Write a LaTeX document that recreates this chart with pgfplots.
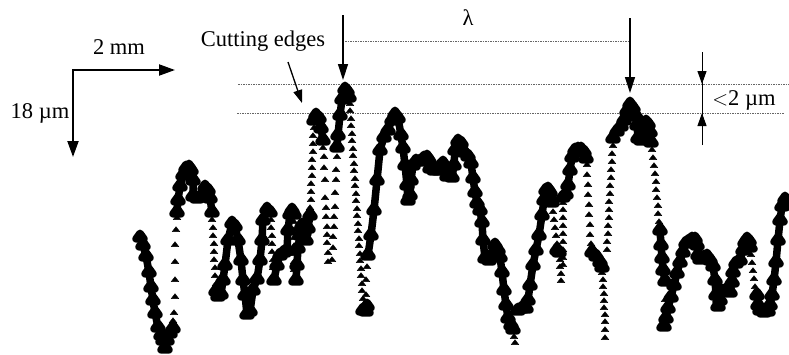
\documentclass[border=0pt]{standalone}
\usepackage{pgfplots}
\pgfplotsset{compat=1.18}
\usepackage{fontspec}
\setmainfont{Liberation Serif}
\usetikzlibrary{arrows.meta}
\begin{document}
\fontsize{22.5}{26}\selectfont
\begin{tikzpicture}
\begin{axis}[scale only axis, width=789pt, height=354pt,
  xmin=0, xmax=789, ymin=0, ymax=354, y dir=reverse, hide axis, clip=false,
  thk/.style={black, line width=7.5pt, line join=round, line cap=round, mark=triangle*, mark size=4.6pt, mark options={yscale=0.8}},
  spr/.style={black, only marks, mark=triangle*, mark size=4.4pt, mark options={yscale=0.75}}]
\coordinate (bl) at (axis cs:0,354);
\coordinate (tr) at (axis cs:789,0);
% thick segments
\addplot[thk] coordinates {(140,237) (143,245) (146,256) (149,272) (151,287) (153,300) (155,313) (158,327) (161,335) (163,340) (165,348) (167,340) (170,333) (173,328)};
\addplot[thk] coordinates {(177,212) (178,200) (180,186) (183,175) (186,168) (189,167) (191,170) (193,180) (193,196) (197,198) (201,197) (205,187) (208,190) (210,198) (212,212)};
\addplot[thk] coordinates {(216,291) (218,296) (221,294) (223,280) (225,265) (228,240) (232,223) (235,226) (238,240) (241,260) (243,280) (245,295) (247,314) (250,311) (253,290) (257,279) (260,260) (262,240) (263,220) (267,209) (270,212)};
\addplot[thk] coordinates {(274,280) (277,265) (280,255) (284,252) (287,250) (288,230) (290,214) (292,210) (294,214)};
\addplot[thk] coordinates {(296,280) (297,265) (298,248) (300,235) (302,225) (304,232) (306,240) (308,228) (310,215)};
\addplot[thk] coordinates {(314,120) (316,115) (319,118) (321,128) (323,140)};
\addplot[thk] coordinates {(337,147) (338,135) (340,115) (342,99) (345,89) (347,91) (349,97)};
\addplot[thk] coordinates {(363,310) (366,311) (367,306)};
\addplot[thk] coordinates {(368,255) (371,235) (374,210) (377,180) (380,150) (384,137) (388,130) (392,120) (395,114) (398,118) (401,135) (403,148) (405,165) (407,185) (408,200) (410,195) (411,180) (413,165) (416,161) (420,161) (424,158) (427,157) (429,160) (430,168) (434,170) (438,170) (441,165) (443,163) (445,170) (447,176) (452,177) (454,165) (455,150) (458,141) (461,143) (464,152) (468,156) (471,163) (473,178) (475,192) (477,203) (480,210) (482,222) (483,240) (485,258) (489,260) (492,255) (495,245) (498,250) (500,257) (502,272) (504,290) (506,305) (508,318) (511,325) (513,329)};
\addplot[thk] coordinates {(518,310) (522,308) (526,308) (528,300) (530,285) (533,265) (536,250) (539,235) (542,215) (544,200) (546,190) (548,189) (550,192) (552,202)};
\addplot[thk] coordinates {(557,250) (559,252)};
\addplot[thk] coordinates {(563,197) (566,194) (568,185) (570,170) (572,157) (575,150) (578,149) (581,149) (584,152) (586,158)};
\addplot[thk] coordinates {(592,252) (596,256) (600,262) (602,267)};
\addplot[thk] coordinates {(613,138) (617,131) (621,126) (624,120) (627,111) (630,104) (633,108) (636,116) (637,125) (638,138) (641,140) (643,135) (644,124) (646,122) (648,124) (650,132) (651,142)};
\addplot[thk] coordinates {(660,230) (661,245) (662,258) (663,270) (665,281)};
\addplot[thk] coordinates {(664,326) (666,318) (668,308) (671,297) (674,285) (677,273) (680,262) (683,252) (686,243) (689,241) (692,239) (695,239) (697,245) (698,255) (700,259) (704,257) (707,256) (710,260) (713,266) (715,280) (716,295) (718,306) (720,300) (722,291) (726,290) (730,292) (732,282) (733,272) (736,263) (740,260) (743,250) (745,242) (747,239) (749,241) (750,247)};
\addplot[thk] coordinates {(757,295) (758,305) (760,310) (764,312) (768,311) (770,305) (772,295) (774,280) (776,262) (778,240) (780,220) (782,206) (785,199) (789,205)};
% sparse columns of points
\addplot[spr] coordinates {(173,321) (174,313) (175,297) (175,280) (175,262) (175,245) (176,230) (177,218)
 (212,220) (213,228) (213,236) (214,244) (214,252) (214,260) (215,268) (215,276) (216,284)
 (271,220) (271,228) (272,236) (272,244) (272,252) (273,260) (273,268) (273,276)
 (294,222) (294,230) (294,238) (294,246) (294,254) (294,262) (294,270) (295,278)
 (310,208) (311,200) (311,192) (311,184) (312,176) (312,168) (312,160) (313,152) (313,144) (313,136) (314,128)
 (323,148) (324,157) (324,168) (325,180) (325,198) (326,208) (326,217) (327,227) (327,235) (327,243) (328,253) (328,262)
 (332,260) (333,248) (333,237) (334,227) (334,217) (335,207) (335,193) (336,180) (336,170) (337,157)
 (350,104) (350,111) (351,119) (351,126) (352,134) (352,141) (353,149) (353,156) (354,164) (354,171) (355,179) (355,186) (356,194) (356,201) (357,209) (357,216) (358,224) (358,231) (359,239) (359,246) (360,254) (360,261) (361,269) (361,276) (362,284) (362,291) (363,299) (363,306)
 (366,295) (366,280) (367,267)
 (514,337) (515,343)
 (553,212) (554,220) (555,228) (556,236) (557,244)
 (560,260) (560,267) (561,274) (561,281)
 (563,265) (563,258) (563,250) (563,242) (563,234) (563,226) (563,218) (563,210) (563,203)
 (587,165) (587,175) (588,185) (588,195) (589,205) (589,215) (590,225) (590,235) (591,244)
 (602,273) (603,280) (603,287) (604,294) (604,301) (604,308) (605,315) (605,322) (605,330) (605,338)
 (607,250) (607,242) (608,234) (608,226) (609,218) (609,210) (609,202) (610,194) (610,186) (611,178) (611,170) (612,162) (612,154) (613,146)
 (652,150) (653,158) (654,166) (655,174) (656,182) (656,190) (657,198) (658,206) (658,214) (659,222)
 (665,300) (665,315)
 (751,255) (752,263) (753,271) (754,279) (755,287)};
% annotations
\draw[line width=2pt, -{Triangle[length=16pt,width=11pt]}] (axis cs:73,70) -- (axis cs:175,70);
\draw[line width=2pt, -{Triangle[length=16pt,width=11pt]}] (axis cs:73,69) -- (axis cs:73,157);
\node at (axis cs:119,47) {2 mm};
\node at (axis cs:40,113) {18 µm};
\node at (axis cs:263,41) {Cutting edges};
\draw[line width=1.3pt, -{Triangle[length=13pt,width=9pt]}] (axis cs:288,62) -- (axis cs:302,103);
\draw[gray!80!black, line width=0.8pt, dash pattern=on 1.5pt off 1pt] (axis cs:238,84) -- (axis cs:789,84);
\draw[gray!80!black, line width=0.8pt, dash pattern=on 1.5pt off 1pt] (axis cs:237,113) -- (axis cs:784,113);
\draw[gray!80!black, line width=0.8pt, dash pattern=on 1.5pt off 1pt] (axis cs:345,41) -- (axis cs:630,41);
\draw[line width=1.4pt, -{Triangle[length=16pt,width=10pt]}] (axis cs:343,15) -- (axis cs:343,80);
\draw[line width=1.4pt, -{Triangle[length=16pt,width=10pt]}] (axis cs:630,18) -- (axis cs:630,93);
\node at (axis cs:468,18) {λ};
\draw[line width=1pt] (axis cs:702,52) -- (axis cs:702,145);
\draw[line width=1pt, -{Triangle[length=13pt,width=9pt]}] (axis cs:702,52) -- (axis cs:702,84);
\draw[line width=1pt, -{Triangle[length=13pt,width=9pt]}] (axis cs:702,145) -- (axis cs:702,113);
\node at (axis cs:744,100) {$<$2 µm};
\end{axis}
\pgfresetboundingbox
\path (bl) rectangle (tr);
\end{tikzpicture}
\end{document}
